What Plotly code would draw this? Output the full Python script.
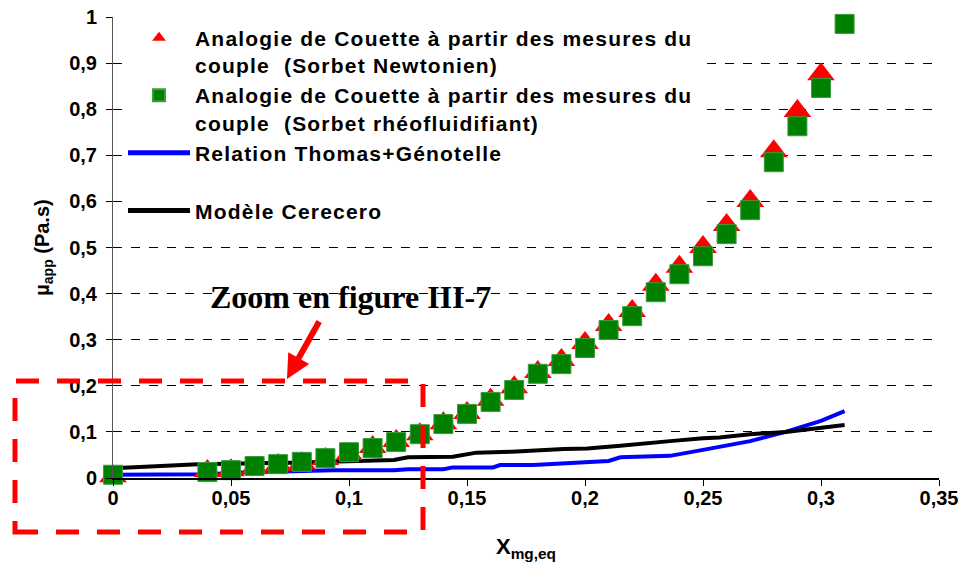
import plotly.graph_objects as go

# Analogie de Couette, sorbet Newtonien (triangles rouges)
x_newt = [0, 0.04, 0.05, 0.06, 0.07, 0.08, 0.09, 0.10, 0.11, 0.12, 0.13, 0.14, 0.15, 0.16,
          0.17, 0.18, 0.19, 0.20, 0.21, 0.22, 0.23, 0.24, 0.25, 0.26, 0.27, 0.28, 0.29, 0.30]
mu_newt = [0.004, 0.015, 0.017, 0.022, 0.028, 0.032, 0.041, 0.052, 0.067, 0.080, 0.095, 0.119,
           0.141, 0.170, 0.197, 0.230, 0.256, 0.293, 0.332, 0.362, 0.419, 0.458, 0.501, 0.549,
           0.601, 0.709, 0.796, 0.876]

# Analogie de Couette, sorbet rheofluidifiant (carres verts)
x_rheo = [0, 0.04, 0.05, 0.06, 0.07, 0.08, 0.09, 0.10, 0.11, 0.12, 0.13, 0.14, 0.15, 0.16,
          0.17, 0.18, 0.19, 0.20, 0.21, 0.22, 0.23, 0.24, 0.25, 0.26, 0.27, 0.28, 0.29, 0.30, 0.31]
mu_rheo = [0.007, 0.013, 0.017, 0.026, 0.030, 0.035, 0.043, 0.056, 0.065, 0.078, 0.095, 0.117,
           0.139, 0.165, 0.191, 0.226, 0.247, 0.282, 0.321, 0.351, 0.403, 0.442, 0.481, 0.529,
           0.581, 0.685, 0.763, 0.846, 0.985]

# Relation Thomas+Genotelle
x_thomas = [0, 0.04, 0.055, 0.076, 0.093, 0.119, 0.125, 0.14, 0.144, 0.161, 0.164, 0.178, 0.19,
            0.21, 0.215, 0.225, 0.236, 0.25, 0.257, 0.27, 0.285, 0.30, 0.31]
mu_thomas = [0.007, 0.008, 0.012, 0.015, 0.017, 0.017, 0.019, 0.019, 0.023, 0.023, 0.028, 0.028,
             0.032, 0.037, 0.045, 0.046, 0.048, 0.061, 0.068, 0.080, 0.100, 0.124, 0.145]

# Modele Cerecero
x_cere = [0, 0.02, 0.036, 0.076, 0.119, 0.125, 0.144, 0.154, 0.169, 0.191, 0.201, 0.215, 0.224,
          0.236, 0.25, 0.257, 0.27, 0.285, 0.31]
mu_cere = [0.021, 0.025, 0.030, 0.033, 0.039, 0.045, 0.046, 0.055, 0.057, 0.063, 0.064, 0.070,
           0.075, 0.080, 0.086, 0.088, 0.095, 0.100, 0.115]


def spaced(*lines):
    # Excel draws this legend with loose letter spacing
    return "<br>".join('<span style="letter-spacing:1.2px">%s</span>' % s for s in lines)


names = [
    spaced("Analogie de Couette à partir des mesures du", "couple  (Sorbet Newtonien)"),
    spaced("Analogie de Couette à partir des mesures du", "couple  (Sorbet rhéofluidifiant)"),
    spaced("Relation Thomas+Génotelle", " "),
    spaced("Modèle Cerecero"),
]

# plot area in screen pixels (body margin is set to 0 below)
L, R, T, B = 113, 939, 17, 478
W, H = R - L, B - T


def px(x):
    return (x - L) / W


def py(y):
    return (B - y) / H


fig = go.Figure()

# lines first so the markers sit on top of them
fig.add_trace(go.Scatter(x=x_thomas, y=mu_thomas, mode="lines", name=names[2],
                         line=dict(color="#0000FF", width=4), legendrank=3))
fig.add_trace(go.Scatter(x=x_cere, y=mu_cere, mode="lines", name=names[3],
                         line=dict(color="#000000", width=4), legendrank=4))
fig.add_trace(go.Scatter(x=x_newt, y=mu_newt, mode="markers", name=names[0], cliponaxis=False,
                         marker=dict(symbol="triangle-up", size=24, color="#FF0000"),
                         legendrank=1))
fig.add_trace(go.Scatter(x=x_rheo, y=mu_rheo, mode="markers", name=names[1], cliponaxis=False,
                         marker=dict(symbol="square", size=19, color="#008000",
                                     line=dict(color="#3C9C3C", width=1)),
                         legendrank=2))

axis_font = dict(family="Liberation Sans, Arial", size=20, color="black", weight="bold")

fig.update_xaxes(
    range=[0, 0.35], dtick=0.05, tick0=0,
    showgrid=False, zeroline=False, automargin=False,
    showline=True, linecolor="black", linewidth=1.5,
    ticks="outside", ticklen=6, tickcolor="black",
    tickfont=axis_font, ticklabelstandoff=-5, ticklabeloverflow="allow",
    title=dict(text="X<sub>mg,eq</sub>", font=dict(family="Liberation Sans, Arial", size=22,
                                                 color="black", weight="bold"), standoff=31),
)
fig.update_yaxes(
    range=[0, 1], dtick=0.1, tick0=0,
    showgrid=True, gridcolor="black", gridwidth=1, griddash="dash",
    zeroline=False, automargin=False,
    showline=True, linecolor="#555555", linewidth=1,
    ticks="outside", ticklen=6, tickcolor="black",
    tickfont=axis_font, ticklabelstandoff=5, ticklabeloverflow="allow",
    title=dict(text="µ<sub>app</sub> (Pa.s)", font=axis_font, standoff=14),
)

fig.update_layout(
    width=966, height=573,
    margin=dict(l=L, r=966 - R, t=T, b=573 - B),
    paper_bgcolor="white", plot_bgcolor="white",
    separators=", ",
    legend=dict(
        x=px(123), y=py(17.5), xanchor="left", yanchor="top",
        bgcolor="white", borderwidth=0,
        itemsizing="constant", valign="top", itemwidth=62,
        font=dict(family="Liberation Sans, Arial", size=21, color="black", weight="bold"),
    ),
    shapes=[
        # white box behind the "Zoom" caption (hides the 0,4 gridline)
        dict(type="rect", xref="paper", yref="paper", layer="between",
             x0=0.0, x1=px(580), y0=py(318), y1=py(276),
             fillcolor="white", line=dict(width=0)),
        # red dashed frame of the zoomed region
        dict(type="rect", xref="paper", yref="paper",
             x0=px(15), x1=px(423), y0=py(532), y1=py(381),
             line=dict(color="#FF0000", width=5, dash="23px,18px")),
    ],
    annotations=[
        dict(text="<b>Zoom en figure III-7</b>", xref="paper", yref="paper",
             x=px(208), y=py(297), xanchor="left", yanchor="middle",
             showarrow=False,
             font=dict(family="Liberation Serif, Times New Roman", size=32, color="black")),
        dict(text="", xref="paper", yref="paper",
             x=px(287), y=py(379),
             ax=33, ay=-59, showarrow=True,
             arrowcolor="#FF0000", arrowwidth=6, arrowhead=2, arrowsize=0.8),
    ],
)

fig.write_html("out.html", config={"displayModeBar": False},
               post_script="document.body.style.margin='0';")
